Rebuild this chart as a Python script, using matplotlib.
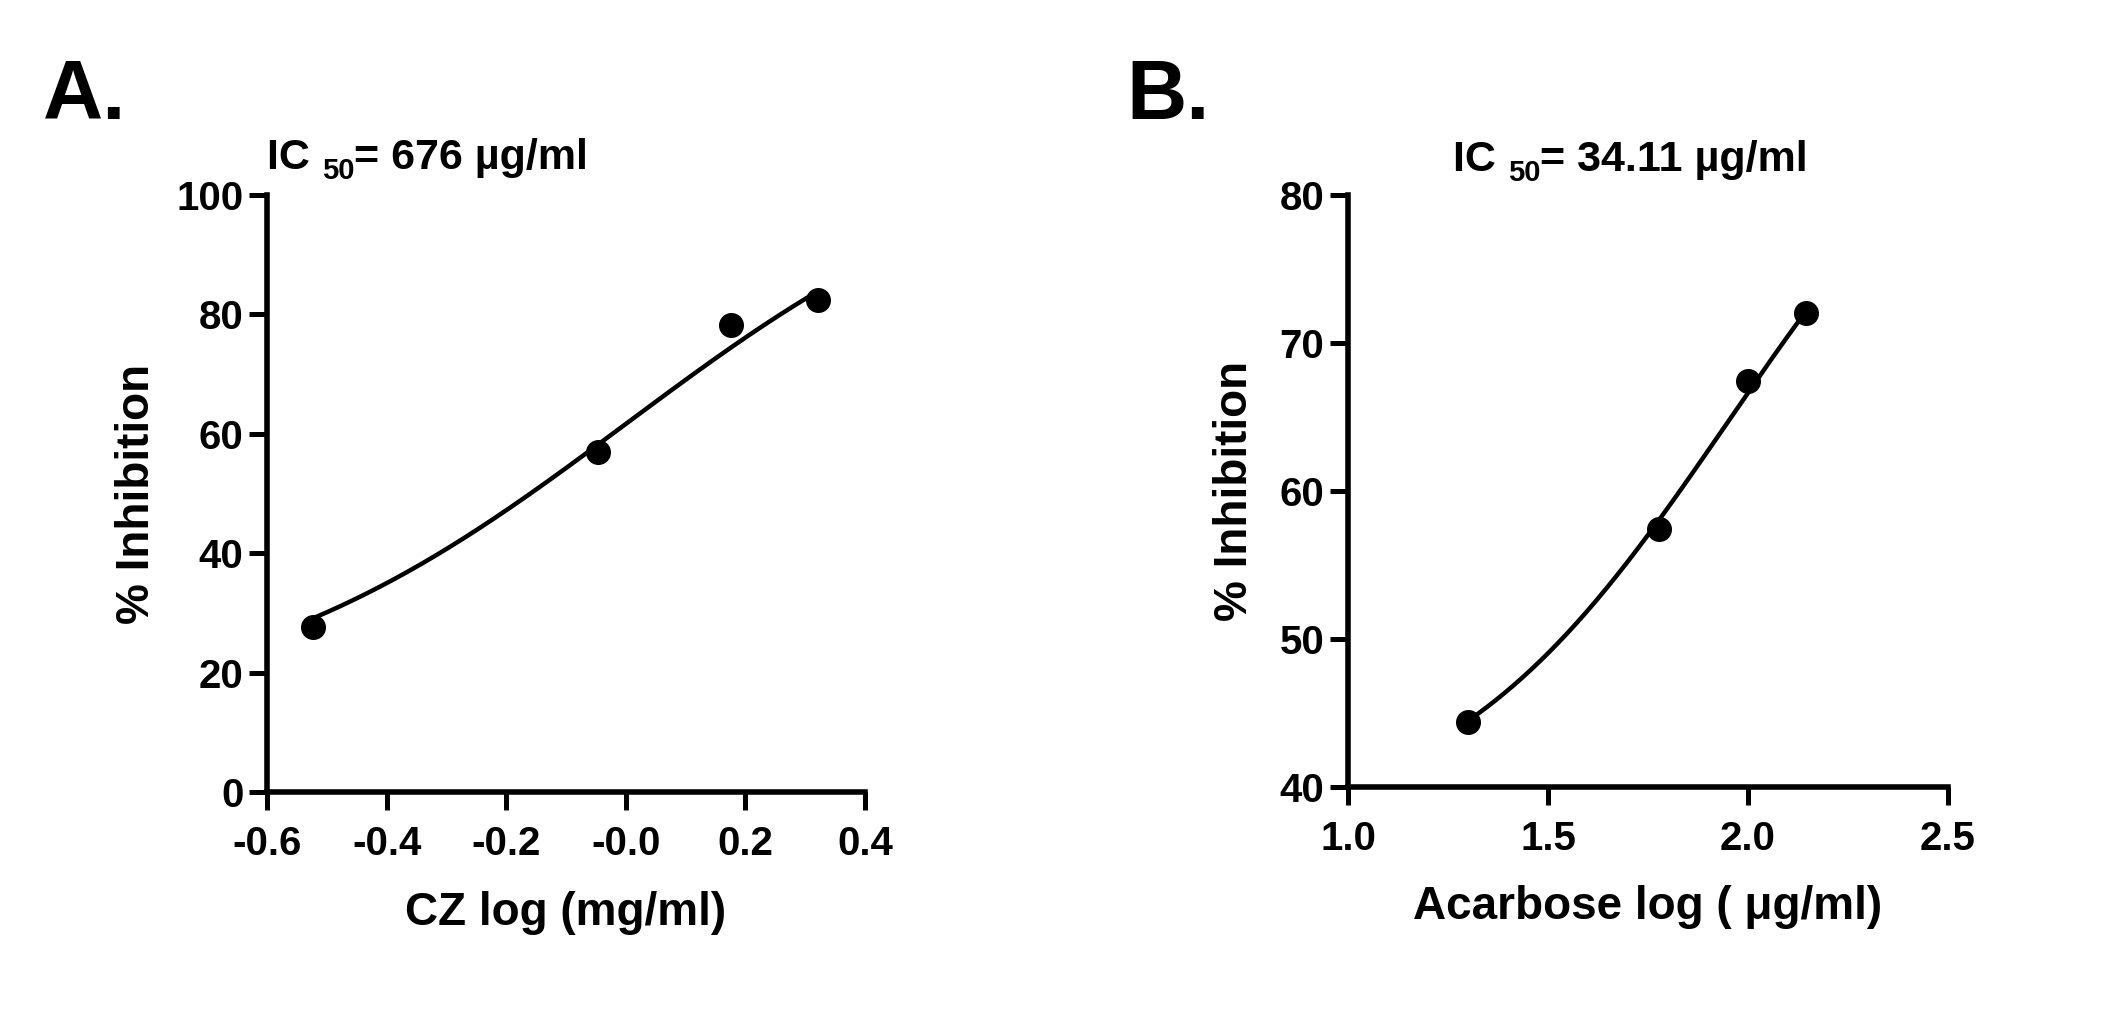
#!/usr/bin/env python
# -*- coding: utf8 -*-

'''Dose-response plots for CZ and Acarbose'''

import matplotlib
matplotlib.use('Agg')
import matplotlib.pyplot as plt
import numpy as np

plt.rcParams['font.family'] = ['Liberation Sans', 'DejaVu Sans']
plt.rcParams['font.weight'] = 'bold'

# Panel A: CZ, log concentration (mg/ml) vs % inhibition
cz_log = [-0.523, -0.046, 0.176, 0.322]
cz_inhib = [27.7, 56.9, 78.3, 82.4]
# fitted curve parameters (bottom, top, logEC50, hill)
cz_fit = [11.9, 111.4, 0.0, 1.30]

# Panel B: Acarbose, log concentration (ug/ml) vs % inhibition
aca_log = [1.301, 1.778, 2.0, 2.146]
aca_inhib = [44.4, 57.4, 67.4, 72.0]
aca_fit = [36.65, 92.71, 1.95, 1.216]

cz_xticks = [-0.6, -0.4, -0.2, 0.0, 0.2, 0.4]
cz_xticklabels = ['-0.6', '-0.4', '-0.2', '-0.0', '0.2', '0.4']
cz_yticks = [0, 20, 40, 60, 80, 100]
aca_xticks = [1.0, 1.5, 2.0, 2.5]
aca_xticklabels = ['1.0', '1.5', '2.0', '2.5']
aca_yticks = [40, 50, 60, 70, 80]

cz_ic50 = '676 \u00b5g/ml'
aca_ic50 = '34.11 \u00b5g/ml'


def four_pl(x, bottom, top, logec50, hill):
    return bottom + (top - bottom) / (1 + 10 ** ((logec50 - x) * hill))


W, H = 2126, 1017
fig = plt.figure(figsize=(W / 100, H / 100), dpi=100)

# axes boxes in pixels: left, top, right, bottom
ax_a = fig.add_axes([267 / W, 1 - 792 / H, 598 / W, 597 / H])
ax_b = fig.add_axes([1348 / W, 1 - 787 / H, 600 / W, 592 / H])

panels = [
    (ax_a, cz_log, cz_inhib, cz_fit, (-0.6, 0.4), (0, 100), cz_xticks, cz_xticklabels, cz_yticks,
     'CZ log (mg/ml)', -0.181),
    (ax_b, aca_log, aca_inhib, aca_fit, (1.0, 2.5), (40, 80), aca_xticks, aca_xticklabels, aca_yticks,
     'Acarbose log ( \u03bcg/ml)', -0.151),
]

for ax, xs, ys, fit, xlim, ylim, xt, xtl, yt, xlabel, ylab_x in panels:
    # fitted curve drawn over the data range
    xc = np.linspace(min(xs), max(xs), 300)
    ax.plot(xc, four_pl(xc, *fit), color='black', linewidth=3.2, solid_capstyle='round', clip_on=False)
    ax.plot(xs, ys, 'o', color='black', markersize=17, clip_on=False, zorder=3)

    ax.set_xlim(*xlim)
    ax.set_ylim(*ylim)
    ax.set_xticks(xt)
    ax.set_xticklabels(xtl)
    ax.set_yticks(yt)

    for side in ['top', 'right']:
        ax.spines[side].set_visible(False)
    for side in ['left', 'bottom']:
        ax.spines[side].set_linewidth(4)
        ax.spines[side].set_capstyle('projecting')

    ax.tick_params(axis='both', direction='out', length=13, width=3.6, labelsize=29)
    ax.tick_params(axis='x', pad=11)
    ax.tick_params(axis='y', pad=4)
    for lab in ax.get_xticklabels() + ax.get_yticklabels():
        lab.set_fontweight('bold')

    ax.set_xlabel(xlabel, fontsize=33, fontweight='bold')
    ax.xaxis.set_label_coords(0.5, -0.166)
    ax.set_ylabel('% Inhibition', fontsize=33, fontweight='bold')
    ax.yaxis.set_label_coords(ylab_x, 0.5)

# titles "IC 50= ..." with a subscript, built from pieces placed one after another
renderer = fig.canvas.get_renderer()


def ic50_title(x_px, base_px, value):
    pieces = [('IC ', 31, 0), ('50', 21, -10), ('= ' + value, 31, 0)]
    x = x_px
    for s, size, dy in pieces:
        t = fig.text(x / W, 1 - (base_px - dy) / H, s, fontsize=size, fontweight='bold',
                     ha='left', va='baseline')
        x += t.get_window_extent(renderer).width


ic50_title(267, 169, cz_ic50)
ic50_title(1453, 171, aca_ic50)

# panel letters
fig.text(43 / W, 1 - 119 / H, 'A.', fontsize=60, fontweight='bold', ha='left', va='baseline')
fig.text(1126 / W, 1 - 119 / H, 'B.', fontsize=60, fontweight='bold', ha='left', va='baseline')

plt.savefig('out.png', dpi=100)
plt.close()
